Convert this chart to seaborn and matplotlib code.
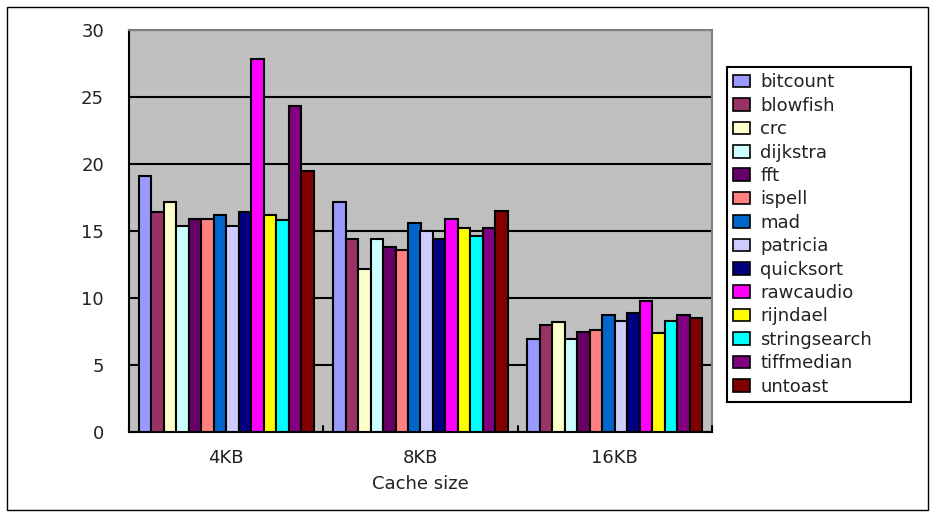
import matplotlib
matplotlib.use("Agg")
import matplotlib.pyplot as plt
import matplotlib.patches as mpatches
import seaborn as sns
import pandas as pd

cache_sizes = ["4KB", "8KB", "16KB"]
benchmarks = ["bitcount", "blowfish", "crc", "dijkstra", "fft", "ispell", "mad",
              "patricia", "quicksort", "rawcaudio", "rijndael", "stringsearch",
              "tiffmedian", "untoast"]
vals_4kb = [19.1, 16.4, 17.2, 15.4, 15.9, 15.9, 16.2, 15.4, 16.4, 27.8, 16.2, 15.8, 24.3, 19.5]
vals_8kb = [17.2, 14.4, 12.2, 14.4, 13.8, 13.6, 15.6, 15.0, 14.4, 15.9, 15.2, 14.6, 15.2, 16.5]
vals_16kb = [6.95, 8.0, 8.2, 6.95, 7.5, 7.6, 8.7, 8.3, 8.85, 9.8, 7.4, 8.3, 8.7, 8.5]
colors = ["#9999FF", "#993366", "#FFFFCC", "#CCFFFF", "#660066", "#FF8080", "#0066CC",
          "#CCCCFF", "#000080", "#FF00FF", "#FFFF00", "#00FFFF", "#800080", "#800000"]
yticks = [0, 5, 10, 15, 20, 25, 30]

rows = []
for cs, vals in zip(cache_sizes, [vals_4kb, vals_8kb, vals_16kb]):
    for b, v in zip(benchmarks, vals):
        rows.append({"Cache size": cs, "benchmark": b, "value": v})
df = pd.DataFrame(rows)

sns.set_style("white")
plt.rcParams["font.family"] = ["DejaVu Sans"]

W, H = 935, 519
fig = plt.figure(figsize=(W / 100, H / 100), dpi=100)
ax = fig.add_axes([129 / W, 1 - 432 / H, (712 - 129) / W, (432 - 30) / H])
ax.set_facecolor("#C0C0C0")

sns.barplot(data=df, x="Cache size", y="value", hue="benchmark",
            hue_order=benchmarks, order=cache_sizes,
            palette=colors, edgecolor="black", linewidth=1.5,
            width=0.9, saturation=1, ax=ax, legend=False, zorder=3)

ax.set_ylim(0, 30)
ax.set_xlim(-0.5, 2.5)
ax.set_yticks(yticks)
ax.yaxis.grid(True, color="black", linewidth=1.5, zorder=0)
ax.set_axisbelow(True)
ax.tick_params(axis="y", length=0, pad=18, labelsize=13)
ax.tick_params(axis="x", length=0, pad=12, labelsize=13)
for t in ax.get_yticklabels() + ax.get_xticklabels():
    t.set_color("#222222")
ax.set_ylabel("")
ax.set_xlabel("Cache size", fontsize=13, labelpad=6, color="#222222")

# category boundary ticks (inward)
for xb in [-0.5, 0.5, 1.5, 2.5]:
    ax.plot([xb, xb], [0, 0.45], color="black", linewidth=1.5, zorder=4, clip_on=False)

ax.spines["left"].set_color("black")
ax.spines["left"].set_linewidth(1.5)
ax.spines["bottom"].set_color("black")
ax.spines["bottom"].set_linewidth(1.5)
ax.spines["top"].set_color("#808080")
ax.spines["top"].set_linewidth(1.5)
ax.spines["right"].set_color("#808080")
ax.spines["right"].set_linewidth(1.5)

handles = [mpatches.Patch(facecolor=c, edgecolor="black", linewidth=1.2, label=b)
           for b, c in zip(benchmarks, colors)]
leg = fig.legend(handles=handles, loc="upper left",
                 bbox_to_anchor=(727 / W, 1 - 397 / H, 184 / W, 330 / H),
                 mode="expand", fontsize=13,
                 frameon=True, fancybox=False, framealpha=1,
                 edgecolor="black", handlelength=0.95, handleheight=0.7,
                 handletextpad=0.55, labelspacing=0.3, borderpad=0.35,
                 borderaxespad=0)
leg.get_frame().set_linewidth(1.5)
for t in leg.get_texts():
    t.set_color("#222222")

fig.patches.append(mpatches.Rectangle((7 / W, 1 - 510 / H), (928 - 7) / W, (510 - 7) / H,
                                      transform=fig.transFigure, fill=False,
                                      edgecolor="black", linewidth=1.0))

fig.savefig("out.png", dpi=100, facecolor="white")
